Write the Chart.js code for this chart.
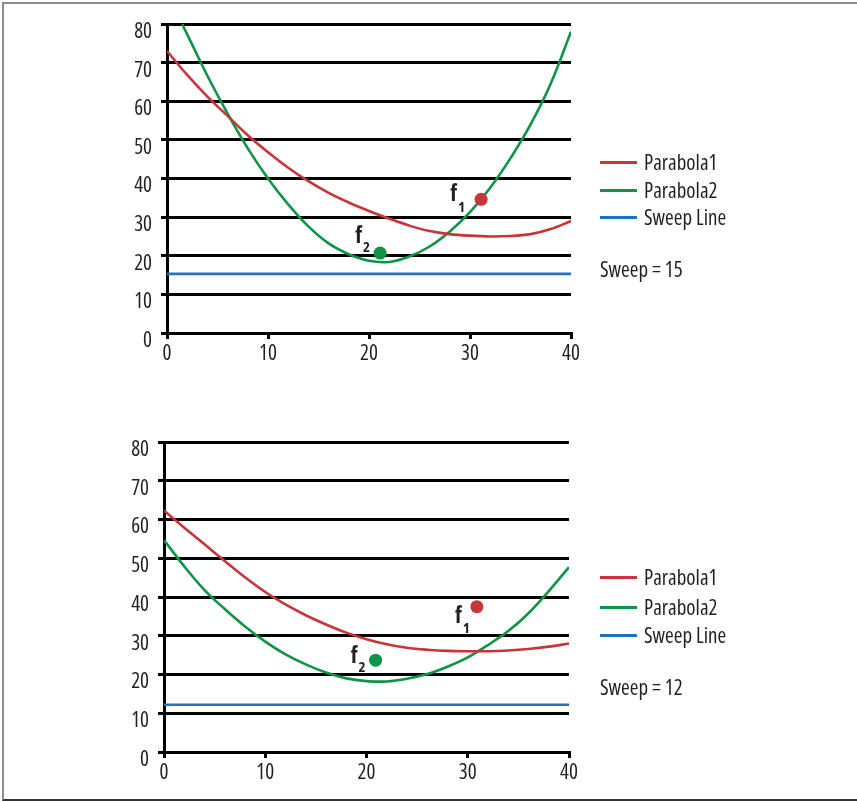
<!DOCTYPE html>
<html><head><meta charset="utf-8">
<script src="https://cdn.jsdelivr.net/npm/chart.js@4"></script>
<style>
html,body{margin:0;padding:0;background:#fff;}
#wrap{position:relative;width:857px;height:801px;overflow:hidden;background:#fff;}
#frame{position:absolute;left:2px;top:2px;width:900px;height:799px;border-left:2px solid #8c8c8c;border-top:2px solid #8c8c8c;border-bottom:2px solid #333;box-sizing:border-box;}
.box{position:absolute;left:0;width:857px;}
</style></head>
<body><div id="wrap"><div id="frame"></div>
<div class="box" style="top:0;height:400px"><canvas id="c1"></canvas></div>
<div class="box" style="top:400px;height:401px"><canvas id="c2"></canvas></div>
</div>
<script>
// ---------- data ----------
const xTicks = [0, 10, 20, 30, 40];
const yTicks = [0, 10, 20, 30, 40, 50, 60, 70, 80];
const seriesNames = ['Parabola1', 'Parabola2', 'Sweep Line'];

// top chart (sweep = 15)
const topP1X = [0,2,4,6,8,10,12,14,16,18,20,22,24,26,28,30,32,34,36,38,40];
const topP1Y = [73.0,66.8,61.2,56.2,51.2,46.8,42.8,39.3,36.3,33.8,31.6,29.6,27.8,26.4,25.6,25.2,25.0,25.1,25.6,26.9,29.0];
const topP2X = [1.5,2,4,6,8,10,12,14,16,18,20,22,24,26,28,30,32,34,36,38,40];
const topP2Y = [80.0,77.3,66.6,56.8,47.8,40.0,33.3,27.6,23.2,20.4,18.7,18.4,19.8,22.4,26.3,31.3,37.6,45.2,54.0,64.6,78.0];
const topSweepX = [0, 40];
const topSweepY = [15.3, 15.3];
const topFocus1 = [31.1, 34.6];
const topFocus2 = [21.1, 20.7];
const topSweepLabel = 'Sweep = 15';

// bottom chart (sweep = 12)
const botP1X = [0,2,4,6,8,10,12,14,16,18,20,22,24,26,28,30,32,34,36,38,40];
const botP1Y = [62.3,57.9,53.6,49.3,45.1,41.3,38.1,35.3,32.9,30.8,29.1,27.8,26.9,26.4,26.1,26.0,26.0,26.2,26.6,27.2,28.0];
const botP2X = [0,2,4,6,8,10,12,14,16,18,20,22,24,26,28,30,32,34,36,38,40];
const botP2Y = [54.7,47.9,41.8,36.9,32.4,28.5,25.2,22.6,20.5,19.0,18.3,18.2,18.9,20.1,22.0,24.4,27.6,31.2,35.8,41.5,47.7];
const botSweepX = [0, 40];
const botSweepY = [12.2, 12.2];
const botFocus1 = [30.9, 37.5];
const botFocus2 = [20.9, 23.7];
const botSweepLabel = 'Sweep = 12';

// ---------- styling ----------
const FAMILY = "'Open Sans', 'Roboto', sans-serif";
const RED = '#c9343b', GREEN = '#0e9447', BLUE = '#1c75bc', INK = '#231f20';

const pts = (xs, ys) => xs.map((x, i) => ({x, y: ys[i]}));

const annotPlugin = {
  id: 'annot',
  afterDatasetsDraw(chart, args, o) {
    const ctx = chart.ctx, xs = chart.scales.x, ys = chart.scales.y;
    ctx.save();
    ctx.fillStyle = INK;
    ctx.textBaseline = 'alphabetic';
    ctx.textAlign = 'left';
    ctx.font = 'condensed 21px ' + FAMILY;
    chart.data.datasets.filter(d => d.showLine).forEach((d, i) => {
      const by = o.rows[i];
      ctx.strokeStyle = d.borderColor;
      ctx.lineWidth = 3;
      ctx.beginPath();
      ctx.moveTo(o.lx, by - 7.5);
      ctx.lineTo(o.lx + 37, by - 7.5);
      ctx.stroke();
      ctx.fillText(d.label, o.tx, by);
    });
    ctx.fillText(o.sweepText, o.lx, o.sweepY);
    o.foci.forEach(f => {
      const d = chart.data.datasets[f.ds].data[0];
      const px = xs.getPixelForValue(d.x), py = ys.getPixelForValue(d.y);
      ctx.font = 'bold condensed 23px ' + FAMILY;
      ctx.textAlign = 'right';
      ctx.fillText('f', px + f.dx, py + f.dy);
      ctx.font = 'bold condensed 15px ' + FAMILY;
      ctx.textAlign = 'left';
      ctx.fillText(f.sub, px + f.dx + 1, py + f.dy + f.sdy);
    });
    ctx.restore();
  }
};

function makeChart(id, s) {
  const datasets = [
    {label: seriesNames[0], data: pts(s.p1x, s.p1y), showLine: true, borderColor: RED, backgroundColor: RED, borderWidth: 2.6, pointRadius: 0, tension: 0.35, order: 2},
    {label: seriesNames[1], data: pts(s.p2x, s.p2y), showLine: true, borderColor: GREEN, backgroundColor: GREEN, borderWidth: 2.6, pointRadius: 0, tension: 0.35, order: 2},
    {label: seriesNames[2], data: pts(s.swx, s.swy), showLine: true, borderColor: BLUE, backgroundColor: BLUE, borderWidth: 2.6, pointRadius: 0, order: 3},
    {label: 'f1', data: [{x: s.f1[0], y: s.f1[1]}], showLine: false, pointRadius: 6.5, pointBackgroundColor: RED, pointBorderWidth: 0, order: 0},
    {label: 'f2', data: [{x: s.f2[0], y: s.f2[1]}], showLine: false, pointRadius: 6.5, pointBackgroundColor: GREEN, pointBorderWidth: 0, order: 0}
  ];
  const tickFont = {family: FAMILY, size: 21, weight: 'condensed'};
  return new Chart(document.getElementById(id), {
    type: 'scatter',
    data: {datasets},
    plugins: [annotPlugin],
    options: {
      responsive: true, maintainAspectRatio: false, animation: false,
      layout: {padding: s.pad},
      plugins: {
        legend: {display: false}, tooltip: {enabled: false},
        annot: {lx: 600, tx: 644, rows: s.rows, sweepY: s.sweepY, sweepText: s.sweepText, foci: s.foci}
      },
      scales: {
        x: {
          type: 'linear', min: 0, max: 40,
          afterBuildTicks: sc => { sc.ticks = xTicks.map(v => ({value: v})); },
          ticks: {color: INK, font: tickFont, padding: 2, maxRotation: 0, autoSkip: false},
          grid: {drawOnChartArea: false, drawTicks: true, tickLength: 6, color: '#000', lineWidth: 3},
          border: {display: true, color: '#000', width: 3},
          afterFit: sc => { sc.height = 30; }
        },
        y: {
          type: 'linear', min: 0, max: 80,
          afterBuildTicks: sc => { sc.ticks = yTicks.map(v => ({value: v})); },
          ticks: {color: INK, font: tickFont, padding: 9, autoSkip: false, labelOffset: 8},
          grid: {drawOnChartArea: true, drawTicks: true, tickLength: 6, color: '#000', lineWidth: 3},
          border: {display: true, color: '#000', width: 3},
          afterFit: sc => { sc.width = s.yw; }
        }
      }
    }
  });
}

makeChart('c1', {
  p1x: topP1X, p1y: topP1Y, p2x: topP2X, p2y: topP2Y, swx: topSweepX, swy: topSweepY,
  f1: topFocus1, f2: topFocus2,
  pad: {left: 0, right: 286, top: 24, bottom: 37}, yw: 167,
  rows: [170, 198, 225], sweepY: 277, sweepText: topSweepLabel,
  foci: [{ds: 3, sub: '1', dx: -24, dy: 2, sdy: 11}, {ds: 4, sub: '2', dx: -18, dy: -10, sdy: 9}]
});
makeChart('c2', {
  p1x: botP1X, p1y: botP1Y, p2x: botP2X, p2y: botP2Y, swx: botSweepX, swy: botSweepY,
  f1: botFocus1, f2: botFocus2,
  pad: {left: 0, right: 288, top: 42, bottom: 19}, yw: 164,
  rows: [185, 215, 243], sweepY: 295, sweepText: botSweepLabel,
  foci: [{ds: 3, sub: '1', dx: -15, dy: 16, sdy: 10}, {ds: 4, sub: '2', dx: -18, dy: 3, sdy: 9}]
});
</script>
</body></html>
